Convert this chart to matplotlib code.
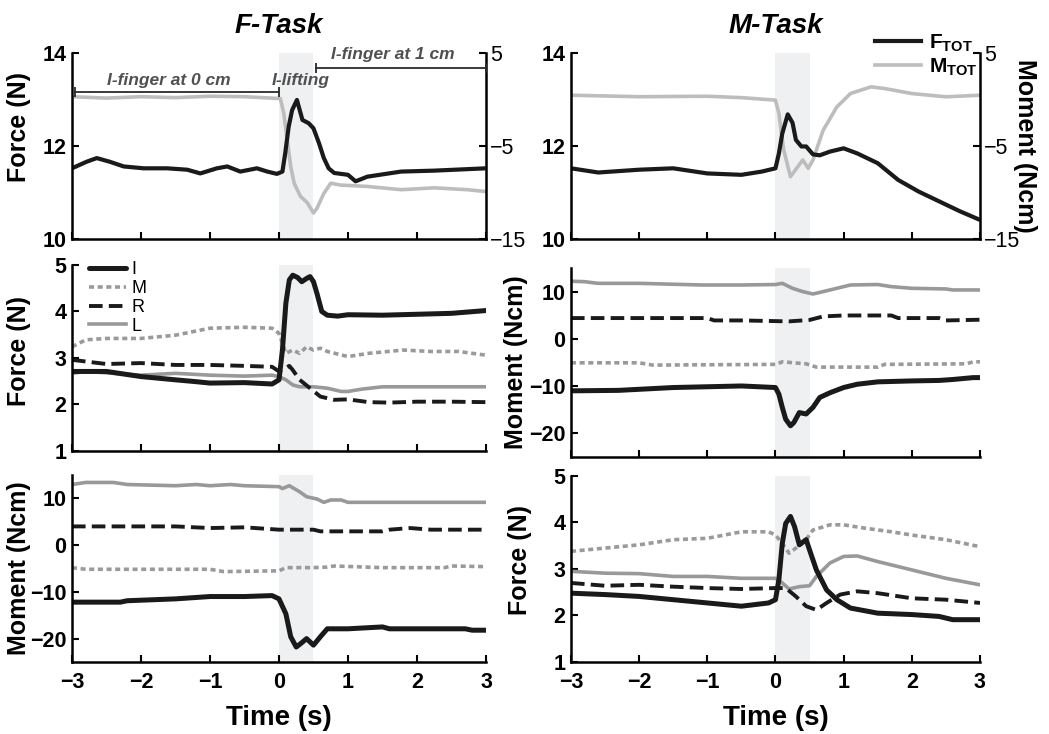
import matplotlib
matplotlib.use('Agg')
import matplotlib.pyplot as plt
from matplotlib.lines import Line2D

plt.rcParams['font.family'] = ['Liberation Sans', 'DejaVu Sans']
plt.rcParams['font.weight'] = 'bold'
plt.rcParams['axes.labelweight'] = 'bold'
plt.rcParams['mathtext.fontset'] = 'custom'
plt.rcParams['mathtext.rm'] = 'Liberation Sans'
plt.rcParams['mathtext.bf'] = 'Liberation Sans:bold'

# ---------------- data ----------------
# Top-left: F-Task total force (N) and total moment (Ncm)
ftask_tot_force_t = [-3.0, -2.79, -2.64, -2.45, -2.25, -1.96, -1.62, -1.33, -1.14, -0.9, -0.75, -0.56,
                     -0.32, -0.17, -0.03, 0.05, 0.09, 0.14, 0.19, 0.26, 0.34, 0.43, 0.5, 0.58, 0.65,
                     0.72, 0.8, 1.0, 1.11, 1.28, 1.77, 2.25, 3.0]
ftask_tot_force = [11.52, 11.66, 11.74, 11.66, 11.56, 11.52, 11.52, 11.49, 11.41, 11.52, 11.56, 11.45,
                   11.52, 11.45, 11.40, 11.45, 11.84, 12.41, 12.77, 12.99, 12.56, 12.49, 12.38, 12.06, 11.74,
                   11.52, 11.42, 11.38, 11.24, 11.34, 11.45, 11.47, 11.52]
ftask_tot_moment_t = [-3.0, -2.5, -2.0, -1.5, -1.0, -0.5, 0.02, 0.07, 0.12, 0.17, 0.22, 0.31, 0.41, 0.5,
                      0.55, 0.65, 0.75, 0.89, 1.28, 1.77, 2.25, 2.73, 3.0]
ftask_tot_moment = [0.3, 0.15, 0.3, 0.2, 0.35, 0.3, 0.1, -1.5, -4.4, -7.2, -9.0, -10.4, -11.1, -12.2,
                    -11.7, -10.1, -9.0, -9.2, -9.35, -9.7, -9.5, -9.7, -9.9]

# Top-right: M-Task total force and moment
mtask_tot_force_t = [-3.0, -2.6, -2.0, -1.5, -1.0, -0.5, -0.2, 0.0, 0.05, 0.1, 0.18, 0.25, 0.3, 0.38,
                     0.45, 0.55, 0.65, 0.8, 1.0, 1.2, 1.5, 1.8, 2.1, 2.4, 2.7, 3.0]
mtask_tot_force = [11.52, 11.43, 11.49, 11.52, 11.41, 11.38, 11.45, 11.52, 11.84, 12.27, 12.68, 12.5,
                   12.13, 11.99, 11.99, 11.82, 11.8, 11.88, 11.95, 11.84, 11.63, 11.27, 11.02, 10.81,
                   10.6, 10.41]
mtask_tot_moment_t = [-3.0, -2.0, -1.0, -0.5, 0.0, 0.05, 0.12, 0.22, 0.3, 0.4, 0.48, 0.55, 0.7, 0.9,
                      1.1, 1.4, 1.6, 2.0, 2.5, 3.0]
mtask_tot_moment = [0.46, 0.3, 0.35, 0.2, -0.07, -1.5, -5.4, -8.3, -7.5, -6.5, -7.4, -6.5, -3.3, -0.8,
                    0.64, 1.36, 1.18, 0.64, 0.29, 0.46]

# Middle-left: F-Task individual finger forces (N)
ftask_force_I_t = [-3.0, -2.5, -2.0, -1.5, -1.2, -1.0, -0.5, -0.1, 0.0, 0.05, 0.1, 0.15, 0.2, 0.27,
                   0.33, 0.4, 0.45, 0.5, 0.55, 0.62, 0.7, 0.85, 1.0, 1.5, 2.0, 2.5, 3.0]
ftask_force_I = [2.71, 2.71, 2.60, 2.53, 2.49, 2.46, 2.47, 2.44, 2.53, 3.17, 4.18, 4.68, 4.78, 4.73,
                 4.64, 4.71, 4.75, 4.64, 4.39, 4.0, 3.92, 3.90, 3.93, 3.92, 3.94, 3.96, 4.02]
ftask_force_M_t = [-3.0, -2.8, -2.5, -2.0, -1.5, -1.0, -0.5, -0.1, 0.0, 0.05, 0.1, 0.2, 0.3, 0.4,
                   0.5, 0.6, 0.7, 1.0, 1.3, 1.8, 2.2, 2.6, 3.0]
ftask_force_M = [3.24, 3.39, 3.42, 3.42, 3.49, 3.64, 3.66, 3.64, 3.53, 3.32, 3.10, 3.17, 3.10, 3.24,
                 3.17, 3.21, 3.14, 3.03, 3.10, 3.17, 3.14, 3.14, 3.06]
ftask_force_R_t = [-3.0, -2.5, -2.0, -1.5, -1.0, -0.5, -0.1, 0.0, 0.15, 0.2, 0.3, 0.45, 0.6, 0.8, 1.0,
                   1.3, 1.6, 2.0, 2.5, 3.0]
ftask_force_R = [2.96, 2.87, 2.89, 2.85, 2.85, 2.83, 2.81, 2.71, 2.83, 2.74, 2.53, 2.35, 2.17, 2.10,
                 2.11, 2.05, 2.04, 2.06, 2.06, 2.05]
ftask_force_L_t = [-3.0, -2.8, -2.0, -1.5, -1.0, -0.5, -0.1, 0.0, 0.1, 0.2, 0.3, 0.5, 0.7, 0.9, 1.0,
                   1.2, 1.5, 2.0, 3.0]
ftask_force_L = [2.67, 2.71, 2.63, 2.67, 2.63, 2.61, 2.63, 2.60, 2.53, 2.42, 2.38, 2.38, 2.35, 2.28,
                 2.28, 2.33, 2.38, 2.38, 2.38]

# Middle-right: M-Task individual finger moments (Ncm)
mtask_mom_L_t = [-3.0, -2.8, -2.6, -2.0, -1.08, -0.5, 0.0, 0.1, 0.25, 0.4, 0.55, 0.7, 0.9, 1.1, 1.5,
                 1.7, 2.0, 2.5, 2.6, 3.0]
mtask_mom_L = [12.2, 12.1, 11.75, 11.75, 11.4, 11.4, 11.5, 11.75, 10.7, 10.0, 9.5, 10.0, 10.7, 11.4,
               11.5, 11.05, 10.7, 10.56, 10.35, 10.35]
mtask_mom_R_t = [-3.0, -1.0, -0.9, -0.5, 0.2, 0.5, 0.7, 1.0, 1.7, 1.8, 2.4, 2.5, 3.0]
mtask_mom_R = [4.4, 4.4, 3.9, 3.9, 3.7, 4.0, 4.75, 4.95, 4.95, 4.4, 4.4, 3.9, 4.05]
mtask_mom_M_t = [-3.0, -2.0, -1.8, 0.0, 0.1, 0.45, 0.6, 1.5, 1.6, 2.8, 2.9, 3.0]
mtask_mom_M = [-5.07, -5.07, -5.55, -5.4, -4.86, -5.28, -5.98, -5.98, -5.4, -5.28, -4.86, -4.86]
mtask_mom_I_t = [-3.0, -2.3, -1.5, -0.5, -0.3, 0.0, 0.05, 0.1, 0.15, 0.22, 0.27, 0.35, 0.45, 0.55,
                 0.65, 0.8, 1.0, 1.2, 1.5, 2.0, 2.4, 2.6, 2.9, 3.0]
mtask_mom_I = [-11.0, -10.9, -10.3, -9.97, -10.1, -10.3, -11.7, -14.5, -17.0, -18.4, -17.7, -15.6,
               -15.9, -14.5, -12.4, -11.4, -10.3, -9.6, -9.1, -8.9, -8.8, -8.6, -8.2, -8.2]

# Bottom-left: F-Task individual finger moments (Ncm)
ftask_mom_L_t = [-3.0, -2.8, -2.4, -2.2, -1.5, -1.2, -1.0, -0.7, -0.5, 0.0, 0.05, 0.15, 0.3, 0.4,
                 0.55, 0.65, 0.75, 0.9, 1.0, 1.5, 3.0]
ftask_mom_L = [12.96, 13.4, 13.4, 12.96, 12.7, 12.96, 12.7, 12.96, 12.7, 12.5, 12.1, 12.7, 11.4,
               10.35, 9.86, 9.15, 9.65, 9.65, 9.15, 9.15, 9.15]
ftask_mom_R_t = [-3.0, -1.5, -1.0, -0.5, 0.0, 0.5, 0.6, 1.5, 1.6, 1.9, 2.2, 3.0]
ftask_mom_R = [4.0, 4.0, 3.65, 3.8, 3.3, 3.3, 2.94, 2.94, 3.3, 3.65, 3.3, 3.3]
ftask_mom_M_t = [-3.0, -2.8, -1.0, -0.8, 0.0, 0.1, 0.5, 0.7, 0.8, 1.5, 2.4, 2.5, 3.0]
ftask_mom_M = [-4.82, -5.17, -5.17, -5.67, -5.5, -4.82, -4.82, -4.7, -4.47, -4.82, -4.82, -4.47, -4.6]
ftask_mom_I_t = [-3.0, -2.3, -2.2, -1.5, -1.0, -0.5, -0.1, 0.0, 0.1, 0.17, 0.25, 0.32, 0.4, 0.5,
                 0.6, 0.7, 1.0, 1.5, 1.6, 2.7, 2.8, 3.0]
ftask_mom_I = [-12.2, -12.2, -11.9, -11.5, -11.0, -11.0, -10.8, -11.5, -14.7, -19.6, -21.8, -21.0,
               -20.0, -21.4, -19.6, -17.9, -17.9, -17.5, -17.9, -17.9, -18.2, -18.2]

# Bottom-right: M-Task individual finger forces (N)
mtask_force_M_t = [-3.0, -2.5, -2.0, -1.5, -1.0, -0.5, -0.1, 0.0, 0.1, 0.2, 0.3, 0.45, 0.55, 0.8,
                   1.0, 1.3, 1.7, 2.0, 2.5, 3.0]
mtask_force_M = [3.38, 3.45, 3.52, 3.63, 3.66, 3.80, 3.80, 3.73, 3.55, 3.34, 3.45, 3.63, 3.84, 3.95,
                 3.95, 3.88, 3.80, 3.73, 3.63, 3.48]
mtask_force_L_t = [-3.0, -2.5, -2.0, -1.5, -1.0, -0.5, 0.0, 0.1, 0.2, 0.35, 0.5, 0.6, 0.8, 1.0, 1.2,
                   1.5, 2.0, 2.5, 3.0]
mtask_force_L = [2.95, 2.91, 2.90, 2.84, 2.84, 2.80, 2.80, 2.70, 2.57, 2.62, 2.64, 2.84, 3.13, 3.27,
                 3.28, 3.16, 2.98, 2.80, 2.66]
mtask_force_R_t = [-3.0, -2.5, -2.0, -1.5, -1.0, -0.5, 0.0, 0.15, 0.3, 0.45, 0.6, 0.75, 0.95, 1.2,
                   1.5, 2.0, 2.5, 3.0]
mtask_force_R = [2.70, 2.64, 2.66, 2.62, 2.59, 2.57, 2.59, 2.59, 2.41, 2.20, 2.12, 2.27, 2.45, 2.52,
                 2.48, 2.37, 2.34, 2.27]
mtask_force_I_t = [-3.0, -2.5, -2.0, -1.5, -1.0, -0.5, -0.1, 0.0, 0.05, 0.1, 0.15, 0.22, 0.28, 0.35,
                   0.45, 0.5, 0.6, 0.75, 0.9, 1.1, 1.5, 2.0, 2.4, 2.6, 3.0]
mtask_force_I = [2.48, 2.45, 2.41, 2.34, 2.27, 2.20, 2.27, 2.34, 2.77, 3.55, 3.98, 4.13, 3.91, 3.52,
                 3.63, 3.41, 2.98, 2.55, 2.34, 2.16, 2.05, 2.02, 1.98, 1.91, 1.91]

finger_labels = ['I', 'M', 'R', 'L']
lift_window = [0.0, 0.5]
time_ticks = [-3, -2, -1, 0, 1, 2, 3]

# ---------------- styles ----------------
STY = {
    'I': dict(color='#1a1a1a', lw=3.6, ls='-', solid_joinstyle='round', solid_capstyle='round'),
    'M': dict(color='#9a9a9a', lw=2.6, ls=(0, (1.4, 1.0))),
    'R': dict(color='#1a1a1a', lw=2.8, ls=(0, (3.5, 1.6))),
    'L': dict(color='#999999', lw=2.6, ls='-', solid_joinstyle='round'),
}
FTOT = dict(color='#1a1a1a', lw=3.0, solid_joinstyle='round')
MTOT = dict(color='#bdbdbd', lw=2.6, solid_joinstyle='round')
SHADE = '#eff0f2'
TICK_FS = 15.5
LABEL_FS = 18

fig = plt.figure(figsize=(10.49, 7.34), dpi=100)


def style(ax, ylim, yticks, xlabels=False, shade=True):
    ax.set_xlim(-3, 3)
    ax.set_ylim(*ylim)
    ax.set_xticks(time_ticks)
    ax.set_yticks(yticks)
    ax.tick_params(direction='in', length=5, width=1.5, labelsize=TICK_FS, pad=4)
    ax.tick_params(axis='x', pad=7)
    for s in ('top', 'right'):
        ax.spines[s].set_visible(False)
    for s in ('left', 'bottom'):
        ax.spines[s].set_linewidth(1.8)
    if shade:
        ax.axvspan(lift_window[0], lift_window[1], color=SHADE, zorder=0, lw=0)
    if not xlabels:
        ax.set_xticklabels([])


def twin(ax):
    ax2 = ax.twinx()
    ax2.set_ylim(-15, 5)
    ax2.set_yticks([-15, -5, 5])
    ax2.set_yticklabels(['\u221215', '\u22125', '5'], fontweight='normal', fontsize=TICK_FS)
    ax2.tick_params(direction='in', length=5, width=1.5, pad=3)
    for s in ('top', 'left', 'bottom'):
        ax2.spines[s].set_visible(False)
    ax2.spines['right'].set_linewidth(1.8)
    ax2.axvspan(lift_window[0], lift_window[1], color=SHADE, zorder=0, lw=0)
    return ax2


LX, LW = 0.0686, 0.3947
RX, RW = 0.5443, 0.3899

# ---- top-left ----
ax1 = fig.add_axes([LX, 0.6744, LW, 0.2534])
style(ax1, (10, 14), [10, 12, 14], shade=False)
ax1b = twin(ax1)
ax1b.plot(ftask_tot_moment_t, ftask_tot_moment, **MTOT)
ax1.plot(ftask_tot_force_t, ftask_tot_force, **FTOT)
ax1.set_zorder(ax1b.get_zorder() + 1)
ax1.patch.set_visible(False)
ax1.set_ylabel('Force (N)', fontsize=LABEL_FS)
ax1.yaxis.set_label_coords(-0.10, 0.60)
ax1.text(0.5, 1.105, 'F-Task', transform=ax1.transAxes, ha='center', va='baseline',
         fontsize=20, fontweight='bold', fontstyle='italic')
# phase annotations
phase0 = [-2.95, 0.0]
phase1 = [0.53, 3.0]
ann_col = '#505050'
ax1.plot(phase0, [13.16, 13.16], color='#2a2a2a', lw=1.3, marker='|', ms=7, mew=1.3)
ax1.plot(phase1, [13.68, 13.68], color='#2a2a2a', lw=1.3, marker='|', ms=7, mew=1.3)
ax1.text(-1.6, 13.4, 'I-finger at 0 cm', ha='center', va='center', fontsize=12.5,
         fontstyle='italic', color=ann_col)
ax1.text(0.31, 13.4, 'I-lifting', ha='center', va='center', fontsize=12.5,
         fontstyle='italic', color=ann_col)
ax1.text(1.65, 13.96, 'I-finger at 1 cm', ha='center', va='center', fontsize=12.5,
         fontstyle='italic', color=ann_col)

# ---- top-right ----
ax2 = fig.add_axes([RX, 0.6744, RW, 0.2534])
style(ax2, (10, 14), [10, 12, 14], shade=False)
ax2b = twin(ax2)
l_m, = ax2b.plot(mtask_tot_moment_t, mtask_tot_moment, **MTOT)
l_f, = ax2.plot(mtask_tot_force_t, mtask_tot_force, **FTOT)
ax2.set_zorder(ax2b.get_zorder() + 1)
ax2.patch.set_visible(False)
ax2b.set_ylabel('Moment (Ncm)', fontsize=LABEL_FS, rotation=-90, va='center')
ax2b.yaxis.set_label_coords(1.11, 0.5)
ax2.text(0.5, 1.105, 'M-Task', transform=ax2.transAxes, ha='center', va='baseline',
         fontsize=20, fontweight='bold', fontstyle='italic')
ax2.legend([l_f, l_m], [r'$\mathbf{F}_{\mathbf{TOT}}$', r'$\mathbf{M}_{\mathbf{TOT}}$'],
           loc='upper right', bbox_to_anchor=(0.995, 1.11), frameon=False, fontsize=15,
           handlelength=2.2, handletextpad=0.4, labelspacing=0.1, borderpad=0, borderaxespad=0)

# ---- middle-left ----
ax3 = fig.add_axes([LX, 0.3856, LW, 0.2534])
style(ax3, (1, 5), [1, 2, 3, 4, 5])
for k, t, v in (('M', ftask_force_M_t, ftask_force_M), ('L', ftask_force_L_t, ftask_force_L),
                ('R', ftask_force_R_t, ftask_force_R), ('I', ftask_force_I_t, ftask_force_I)):
    ax3.plot(t, v, **STY[k])
hs = [Line2D([], [], **STY[k]) for k in finger_labels]
ax3.legend(hs, finger_labels, loc='upper left', bbox_to_anchor=(0.04, 1.02), frameon=False,
           prop={'weight': 'normal', 'size': 13}, handlelength=2.1, handletextpad=0.3,
           labelspacing=0.1, borderpad=0, borderaxespad=0)
ax3.set_ylabel('Force (N)', fontsize=LABEL_FS)
ax3.yaxis.set_label_coords(-0.10, 0.54)

# ---- middle-right ----
ax4 = fig.add_axes([RX, 0.3774, RW, 0.2575])
style(ax4, (-25, 15), [-20, -10, 0, 10])
for k, t, v in (('M', mtask_mom_M_t, mtask_mom_M), ('L', mtask_mom_L_t, mtask_mom_L),
                ('R', mtask_mom_R_t, mtask_mom_R), ('I', mtask_mom_I_t, mtask_mom_I)):
    ax4.plot(t, v, **STY[k])
ax4.set_ylabel('Moment (Ncm)', fontsize=LABEL_FS)
ax4.yaxis.set_label_coords(-0.106, 0.5)

# ---- bottom-left ----
ax5 = fig.add_axes([LX, 0.0981, LW, 0.2548])
style(ax5, (-25, 15), [-20, -10, 0, 10], xlabels=True)
for k, t, v in (('M', ftask_mom_M_t, ftask_mom_M), ('L', ftask_mom_L_t, ftask_mom_L),
                ('R', ftask_mom_R_t, ftask_mom_R), ('I', ftask_mom_I_t, ftask_mom_I)):
    ax5.plot(t, v, **STY[k])
ax5.set_ylabel('Moment (Ncm)', fontsize=LABEL_FS)
ax5.yaxis.set_label_coords(-0.10, 0.5)
ax5.text(0.5, -0.30, 'Time (s)', transform=ax5.transAxes, ha='center', va='center', fontsize=20)

# ---- bottom-right ----
ax6 = fig.add_axes([RX, 0.0981, RW, 0.2534])
style(ax6, (1, 5), [1, 2, 3, 4, 5], xlabels=True)
for k, t, v in (('M', mtask_force_M_t, mtask_force_M), ('L', mtask_force_L_t, mtask_force_L),
                ('R', mtask_force_R_t, mtask_force_R), ('I', mtask_force_I_t, mtask_force_I)):
    ax6.plot(t, v, **STY[k])
ax6.set_ylabel('Force (N)', fontsize=LABEL_FS)
ax6.yaxis.set_label_coords(-0.095, 0.55)
ax6.text(0.5, -0.30, 'Time (s)', transform=ax6.transAxes, ha='center', va='center', fontsize=20)

fig.savefig('out.png', dpi=100)
